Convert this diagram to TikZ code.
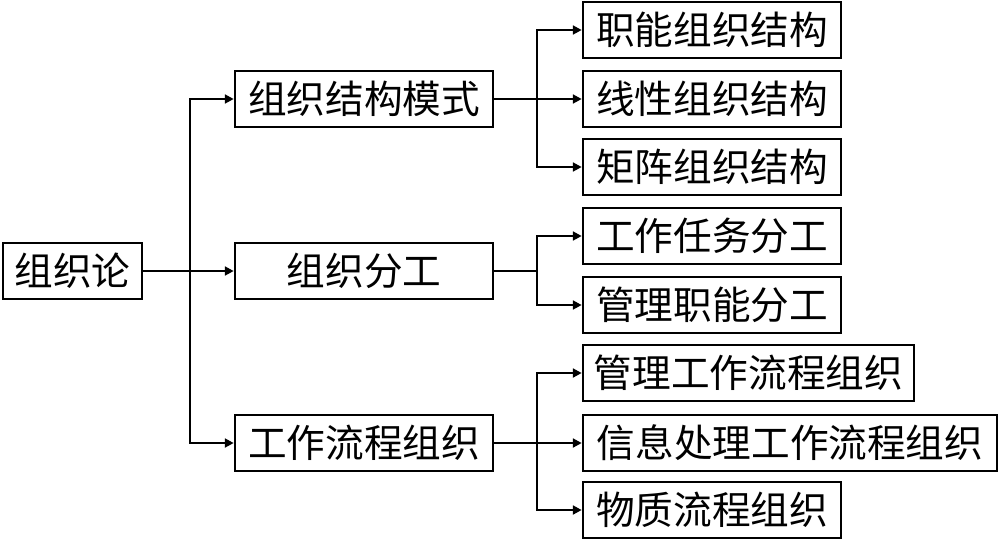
\documentclass[tikz,border=0pt]{standalone}
\usepackage{fontspec}
\setmainfont{Noto Sans CJK SC}
\usepackage{tikz}
\usetikzlibrary{arrows.meta}

\begin{document}
\begin{tikzpicture}[x=0.02cm, y=-0.02cm,
      box/.style={draw, line width=1.5pt, minimum height=1.12cm, inner sep=0pt,
                  font=\fontsize{22}{26}\selectfont},
      link/.style={line width=1.5pt},
      arrow/.style={-{Triangle[length=5pt,width=5pt]}, line width=1.5pt}
    ]
    \useasboundingbox (0,0) rectangle (1000,542);

    % root and second level
    \node[box, minimum width=2.78cm] (root)   at (72.5,271) {组织论};
    \node[box, minimum width=5.16cm] (struct) at (364,99)   {组织结构模式};
    \node[box, minimum width=5.16cm] (divide) at (364,271)  {组织分工};
    \node[box, minimum width=5.16cm] (flow)   at (364,443)  {工作流程组织};

    % leaves
    \node[box, minimum width=5.16cm] (func)   at (712,30)  {职能组织结构};
    \node[box, minimum width=5.16cm] (linear) at (712,99)  {线性组织结构};
    \node[box, minimum width=5.16cm] (matr)   at (712,167) {矩阵组织结构};
    \node[box, minimum width=5.16cm] (task)   at (712,236) {工作任务分工};
    \node[box, minimum width=5.16cm] (mgmt)   at (712,305) {管理职能分工};
    \node[box, minimum width=6.62cm] (mflow)  at (748.5,373) {管理工作流程组织};
    \node[box, minimum width=8.28cm] (info)   at (790,443)   {信息处理工作流程组织};
    \node[box, minimum width=5.16cm] (material) at (712,510) {物质流程组织};

    % branch points
    \coordinate (t0) at (190,271);
    \coordinate (t1) at (537,99);
    \coordinate (t2) at (537,271);
    \coordinate (t3) at (537,443);

    \draw[link]  (root) -- (t0);
    \draw[arrow] (t0) |- (struct);
    \draw[arrow] (t0) -- (divide);
    \draw[arrow] (t0) |- (flow);

    \draw[link]  (struct) -- (t1);
    \draw[arrow] (t1) |- (func);
    \draw[arrow] (t1) -- (linear);
    \draw[arrow] (t1) |- (matr);

    \draw[link]  (divide) -- (t2);
    \draw[arrow] (t2) |- (task);
    \draw[arrow] (t2) |- (mgmt);

    \draw[link]  (flow) -- (t3);
    \draw[arrow] (t3) |- (mflow);
    \draw[arrow] (t3) -- (info);
    \draw[arrow] (t3) |- (material);
  \end{tikzpicture}
\end{document}
